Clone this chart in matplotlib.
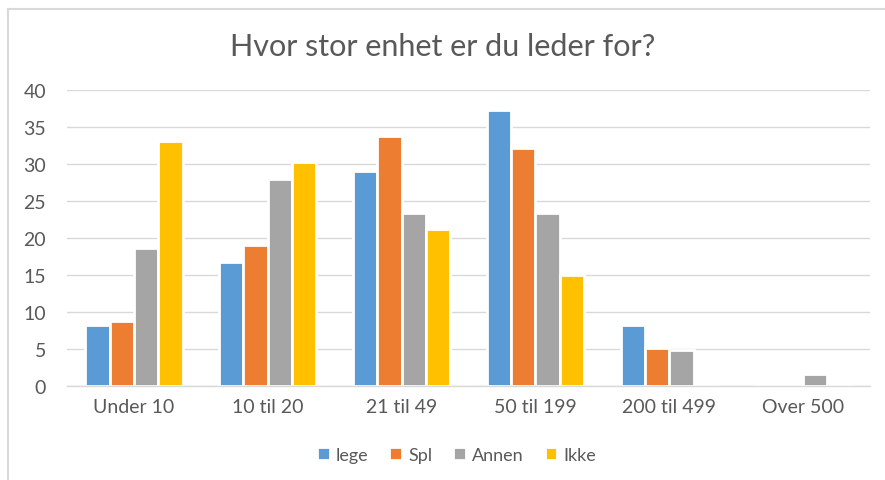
import matplotlib
matplotlib.use("Agg")
import matplotlib.pyplot as plt
import numpy as np

categories = ["Under 10", "10 til 20", "21 til 49", "50 til 199", "200 til 499", "Over 500"]
series_names = ["lege", "Spl", "Annen", "Ikke"]
lege = [8.2, 16.7, 29.1, 37.4, 8.2, 0]
spl = [8.8, 19.1, 33.8, 32.2, 5.1, 0]
annen = [18.7, 28.0, 23.4, 23.4, 4.8, 1.6]
ikke = [33.2, 30.3, 21.2, 15.0, 0, 0]
colors = ["#5B9BD5", "#ED7D31", "#A5A5A5", "#FFC000"]
yticks = [0, 5, 10, 15, 20, 25, 30, 35, 40]

plt.rcParams['font.family'] = ['Lato', 'DejaVu Sans']
W, H = 885, 481
fig = plt.figure(figsize=(W / 100, H / 100), dpi=100)

ax = fig.add_axes([67 / W, (H - 386.7) / H, (870 - 67) / W, (386.7 - 91.4) / H])
x = np.arange(len(categories))
pitch = 0.182
offsets = (np.arange(4) - 1.5) * pitch
for vals, name, c, off in zip([lege, spl, annen, ikke], series_names, colors, offsets):
    ax.bar(x + off, vals, width=pitch, color=c, edgecolor="white", linewidth=2.0, label=name, zorder=3)

ax.set_xlim(-0.5, len(categories) - 0.5)
ax.set_ylim(0, 40)
ax.set_yticks(yticks)
ax.set_xticks(x)
ax.set_xticklabels(categories)
ax.grid(axis="y", color="#D9D9D9", linewidth=1.0, zorder=0)
for s in ["top", "right", "left"]:
    ax.spines[s].set_visible(False)
ax.spines["bottom"].set_color("#D9D9D9")
ax.spines["bottom"].set_linewidth(1.0)
ax.spines["bottom"].set_zorder(4)
ax.tick_params(axis="both", length=0, labelsize=14, labelcolor="#595959")
ax.tick_params(axis="y", pad=15)
ax.tick_params(axis="x", pad=9)

fig.text(0.5, (H - 47) / H, "Hvor stor enhet er du leder for?", ha="center", va="center",
         fontsize=22, color="#595959")

leg = fig.legend(loc="center", bbox_to_anchor=(0.516, (H - 456) / H), ncol=4, frameon=False,
                 fontsize=13, handlelength=0.7, handleheight=0.7, handletextpad=0.35,
                 columnspacing=1.15)
for t in leg.get_texts():
    t.set_color("#595959")

# chart border (top and left visible)
fig.add_artist(plt.Line2D([8 / W, 8 / W], [0, (H - 9.5) / H], transform=fig.transFigure,
                          color="#D9D9D9", linewidth=1.5))
fig.add_artist(plt.Line2D([8 / W, 1], [(H - 9.5) / H, (H - 9.5) / H], transform=fig.transFigure,
                          color="#D9D9D9", linewidth=1.5))

fig.savefig("out.png", dpi=100)
